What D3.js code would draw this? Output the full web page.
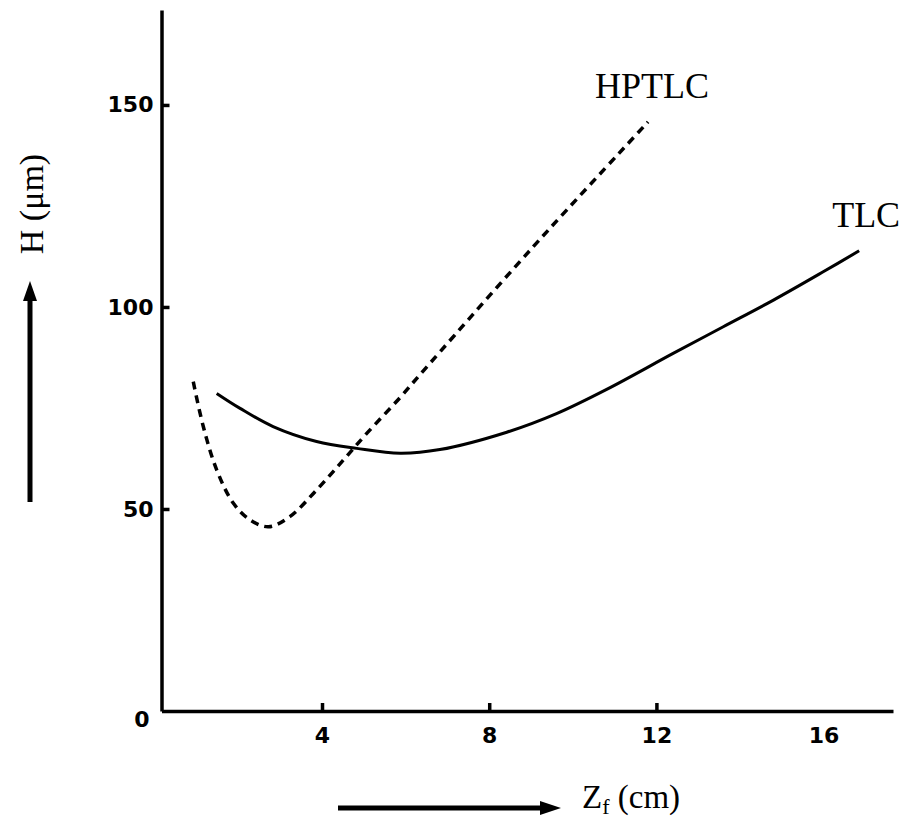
<!DOCTYPE html>
<html>
<head>
<meta charset="utf-8">
<script src="https://cdn.jsdelivr.net/npm/d3@7"></script>
<style>
  body { margin: 0; background: #fff; }
  svg { display: block; }
  .tick text { font-family: "DejaVu Sans", sans-serif; font-weight: bold; font-size: 22px; fill: #000; }
  .lbl { font-family: "Liberation Serif", "Times New Roman", serif; fill: #000; }
</style>
</head>
<body>
<div id="chart"></div>
<script>
// TLC curve (Zf in cm, H in um)
const tlcZ = [1.48, 2.04, 2.83, 3.87, 4.83, 5.87, 6.82, 8.42, 9.61, 10.81, 12.40, 13.60, 14.80, 15.99, 16.85];
const tlcH = [78.6, 74.9, 70.4, 66.7, 65.0, 63.8, 64.7, 69.0, 73.6, 79.6, 88.5, 95.1, 101.7, 108.7, 113.9];

// HPTLC curve (dashed)
const hpZ = [0.92, 1.16, 1.48, 1.88, 2.28, 2.72, 3.23, 3.87, 4.51, 5.07, 5.87, 6.34, 9.0, 11.80];
const hpH = [81.5, 70.4, 59.7, 51.4, 47.3, 45.6, 48.1, 54.7, 62.1, 68.7, 77.6, 83.2, 114.3, 145.8];

const xTicks = [4, 8, 12, 16];
const yTicks = [0, 50, 100, 150];

const width = 902, height = 828;

const svg = d3.select("#chart").append("svg")
  .attr("width", width)
  .attr("height", height);

svg.append("rect").attr("width", width).attr("height", height).attr("fill", "#fff");

const x = d3.scaleLinear().domain([0.16, 17.66]).range([161.5, 893]);
const y = d3.scaleLinear().domain([0, 173.5]).range([711, 10]);

// axes: ticks point inward
const xAxis = svg.append("g")
  .attr("transform", `translate(0,${y(0)})`)
  .call(d3.axisBottom(x).tickValues(xTicks).tickSizeInner(-8).tickSizeOuter(0).tickPadding(16));

// no tick mark at 16 in the original
xAxis.selectAll(".tick").filter(d => d === 16).select("line").remove();

const yAxis = svg.append("g")
  .attr("transform", `translate(${x.range()[0]},0)`)
  .call(d3.axisLeft(y).tickValues(yTicks).tickSizeInner(-8).tickSizeOuter(0).tickPadding(8));

yAxis.selectAll(".tick").filter(d => d === 0).select("line").remove();
yAxis.selectAll(".tick").filter(d => d === 0).select("text")
  .attr("x", -12).attr("dy", "0.7em");

svg.selectAll(".domain").attr("stroke", "#000").attr("stroke-width", 3.5);
svg.selectAll(".tick line").attr("stroke", "#000").attr("stroke-width", 3.5);

// curves
const line = d3.line()
  .x(d => x(d[0]))
  .y(d => y(d[1]))
  .curve(d3.curveCatmullRom.alpha(0.5));

const tlc = tlcZ.map((z, i) => [z, tlcH[i]]);
const hp = hpZ.map((z, i) => [z, hpH[i]]);

svg.append("path")
  .datum(tlc)
  .attr("d", line)
  .attr("fill", "none")
  .attr("stroke", "#000")
  .attr("stroke-width", 3);

svg.append("path")
  .datum(hp)
  .attr("d", line)
  .attr("fill", "none")
  .attr("stroke", "#000")
  .attr("stroke-width", 3.5)
  .attr("stroke-dasharray", "8,6");

// curve labels near the line ends
const hpEnd = hp[hp.length - 1];
const tlcEnd = tlc[tlc.length - 1];

svg.append("text")
  .attr("class", "lbl")
  .attr("x", x(hpEnd[0]) - 53)
  .attr("y", y(hpEnd[1]) - 24)
  .style("font-size", "36px")
  .text("HPTLC");

svg.append("text")
  .attr("class", "lbl")
  .attr("x", x(tlcEnd[0]) - 27)
  .attr("y", y(tlcEnd[1]) - 24)
  .style("font-size", "36px")
  .text("TLC");

// axis titles with arrows
const xTitle = svg.append("text")
  .attr("class", "lbl")
  .attr("x", 582)
  .attr("y", 808)
  .style("font-size", "33px");
xTitle.append("tspan").text("Z");
xTitle.append("tspan").attr("dy", 6).style("font-size", "22px").text("f");
xTitle.append("tspan").attr("dy", -6).text(" (cm)");

svg.append("text")
  .attr("class", "lbl")
  .attr("transform", "translate(43,204) rotate(-90)")
  .attr("text-anchor", "middle")
  .style("font-size", "34px")
  .text("H (μm)");

// arrows
svg.append("line")
  .attr("x1", 338).attr("y1", 808).attr("x2", 545).attr("y2", 808)
  .attr("stroke", "#000").attr("stroke-width", 5);
svg.append("path")
  .attr("d", "M540,801 L561,808 L540,815 Z")
  .attr("fill", "#000");

svg.append("line")
  .attr("x1", 30).attr("y1", 502).attr("x2", 30).attr("y2", 296)
  .attr("stroke", "#000").attr("stroke-width", 5);
svg.append("path")
  .attr("d", "M23,301 L30,281 L37,301 Z")
  .attr("fill", "#000");
</script>
</body>
</html>
